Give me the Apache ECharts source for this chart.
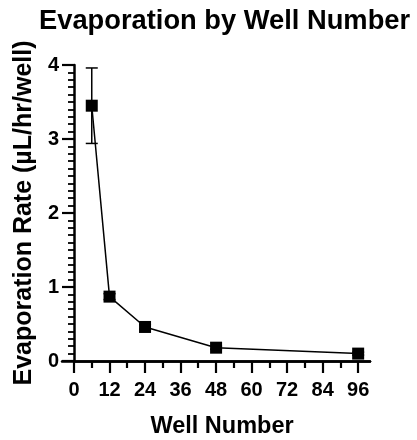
<!DOCTYPE html>
<html>
<head>
<meta charset="utf-8">
<script src="https://cdn.jsdelivr.net/npm/echarts@6/dist/echarts.min.js"></script>
<style>
  html, body { margin: 0; padding: 0; background: #fff; }
  #chart { width: 417px; height: 440px; }
</style>
</head>
<body>
<div id="chart"></div>
<script>
// Plate formats (wells per plate) and mean evaporation rate with SD
const wells = [6, 12, 24, 48, 96];
const rate = [3.45, 0.87, 0.46, 0.18, 0.10];
const sd = [0.51, 0.04, 0.03, 0.02, 0.02];

// Axis tick positions
const xMajorTicks = [0, 12, 24, 36, 48, 60, 72, 84, 96];
const xMinorTicks = [6, 18, 30, 42, 54, 66, 78, 90];

const FONT = '"Liberation Sans", Arial, Helvetica, sans-serif';
const INK = '#000';

const points = wells.map((w, i) => [w, rate[i]]);
const bars = wells.map((w, i) => [w, rate[i] - sd[i], rate[i] + sd[i]]);

// Main plot area starts at x = 0; a second, slightly wider area carries
// the x axis line that runs a little past the y axis, plus the short ticks.
const plotGrid = { left: 74, right: 47, top: 65, bottom: 79, containLabel: false, outerBoundsMode: 'none' };
const baseGrid = { left: 62, right: 47, top: 65, bottom: 79, containLabel: false, outerBoundsMode: 'none' };

const chart = echarts.init(document.getElementById('chart'), null, { renderer: 'canvas' });

chart.setOption({
  animation: false,
  backgroundColor: '#fff',
  title: {
    text: 'Evaporation by Well Number',
    left: 34,
    top: 3,
    textStyle: { fontFamily: FONT, fontSize: 27.3, fontWeight: 'bold', color: INK }
  },
  grid: [plotGrid, baseGrid],
  xAxis: [
    {
      type: 'value',
      gridIndex: 0,
      min: 0,
      max: 100,
      name: 'Well Number',
      nameLocation: 'middle',
      nameGap: 54,
      nameTextStyle: { fontFamily: FONT, fontSize: 23.5, fontWeight: 'bold', color: INK },
      axisLine: { show: true, onZero: false, lineStyle: { color: INK, width: 2.5 } },
      axisTick: { show: true, inside: false, length: 12, customValues: xMajorTicks, lineStyle: { color: INK, width: 2.2 } },
      axisLabel: { show: true, customValues: xMajorTicks, margin: 19, fontFamily: FONT, fontSize: 20, fontWeight: 'bold', color: INK },
      splitLine: { show: false }
    },
    {
      type: 'value',
      gridIndex: 1,
      min: -4,
      max: 100,
      axisLine: { show: true, onZero: false, lineStyle: { color: INK, width: 2.5 } },
      axisTick: { show: true, inside: false, length: 7, customValues: xMinorTicks, lineStyle: { color: INK, width: 2.2 } },
      axisLabel: { show: false },
      splitLine: { show: false }
    }
  ],
  yAxis: [
    {
      type: 'value',
      gridIndex: 0,
      min: 0,
      max: 4,
      interval: 1,
      name: 'Evaporation Rate (µL/hr/well)',
      nameLocation: 'middle',
      nameGap: 35,
      nameTextStyle: { fontFamily: FONT, fontSize: 25, fontWeight: 'bold', color: INK },
      axisLine: { show: true, onZero: false, lineStyle: { color: INK, width: 2.5 } },
      axisTick: { show: true, inside: false, length: 12, lineStyle: { color: INK, width: 2.2 } },
      minorTick: { show: true, splitNumber: 10, length: 6, lineStyle: { color: INK, width: 1.8 } },
      axisLabel: { margin: 15, fontFamily: FONT, fontSize: 20, fontWeight: 'bold', color: INK },
      splitLine: { show: false },
      minorSplitLine: { show: false }
    },
    {
      type: 'value',
      gridIndex: 1,
      min: 0,
      max: 4,
      interval: 1,
      show: false
    }
  ],
  series: [
    {
      // SD error bars with caps
      type: 'custom',
      xAxisIndex: 0,
      yAxisIndex: 0,
      z: 2,
      data: bars,
      encode: { x: 0, y: [1, 2] },
      renderItem: function (params, api) {
        const x = api.value(0);
        const lo = api.coord([x, api.value(1)]);
        const hi = api.coord([x, api.value(2)]);
        const half = 6;
        const style = { stroke: INK, lineWidth: 1.5, fill: null };
        return {
          type: 'group',
          children: [
            { type: 'line', shape: { x1: lo[0], y1: lo[1], x2: hi[0], y2: hi[1] }, style: style },
            { type: 'line', shape: { x1: hi[0] - half, y1: hi[1], x2: hi[0] + half, y2: hi[1] }, style: style },
            { type: 'line', shape: { x1: lo[0] - half, y1: lo[1], x2: lo[0] + half, y2: lo[1] }, style: style }
          ]
        };
      }
    },
    {
      type: 'line',
      xAxisIndex: 0,
      yAxisIndex: 0,
      z: 3,
      data: points,
      symbol: 'rect',
      symbolSize: 12,
      showAllSymbol: true,
      lineStyle: { color: INK, width: 1.5 },
      itemStyle: { color: INK, borderWidth: 0 }
    }
  ]
});
</script>
</body>
</html>
